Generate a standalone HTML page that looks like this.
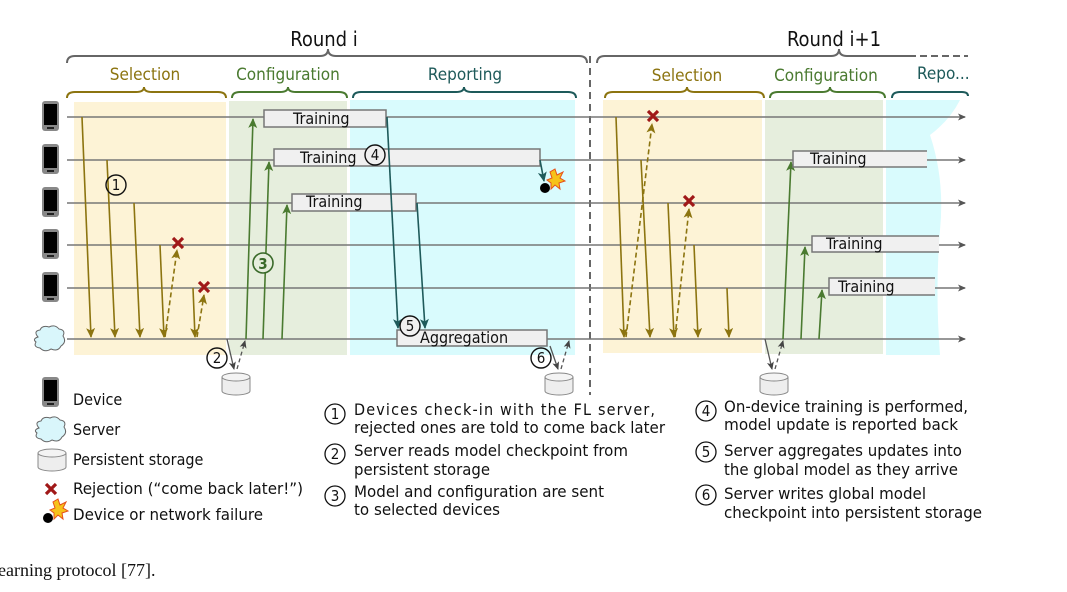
<!DOCTYPE html>
<html><head><meta charset="utf-8"><style>
body{margin:0;background:#fff;}
svg{display:block;}
text{font-family:"DejaVu Sans Condensed","Liberation Sans",sans-serif;}
</style></head><body>
<svg width="1067" height="592" viewBox="0 0 1067 592" xmlns="http://www.w3.org/2000/svg">
<defs>
<marker id="ag" markerWidth="8" markerHeight="8" refX="7" refY="4" orient="auto" markerUnits="userSpaceOnUse"><path d="M0,0.5 L8,4 L0,7.5 L2,4z" fill="#555"/></marker>
<marker id="ay" markerWidth="10" markerHeight="10" refX="9" refY="5" orient="auto" markerUnits="userSpaceOnUse"><path d="M0,0.5 L10,5 L0,9.5 L2.5,5z" fill="#8c7410"/></marker>
<marker id="agr" markerWidth="10" markerHeight="10" refX="9" refY="5" orient="auto" markerUnits="userSpaceOnUse"><path d="M0,0.5 L10,5 L0,9.5 L2.5,5z" fill="#4a7a30"/></marker>
<marker id="at" markerWidth="10" markerHeight="10" refX="9" refY="5" orient="auto" markerUnits="userSpaceOnUse"><path d="M0,0.5 L10,5 L0,9.5 L2.5,5z" fill="#1e5a5a"/></marker>
<marker id="ak" markerWidth="8" markerHeight="8" refX="7" refY="4" orient="auto" markerUnits="userSpaceOnUse"><path d="M0,0.5 L8,4 L0,7.5 L2,4z" fill="#444"/></marker>
<g id="phone"><rect x="0" y="0" width="17" height="30" rx="3" fill="#888"/><rect x="2" y="3" width="13" height="21" fill="#000"/><rect x="5" y="26" width="7" height="2" fill="#222"/></g>
<g id="cyl"><path d="M0,4 L0,18 A14,4 0 0 0 28,18 L28,4" fill="#eee" stroke="#888" stroke-width="1"/><ellipse cx="14" cy="4" rx="14" ry="4" fill="#f4f4f4" stroke="#888"/></g>
<path id="xm" d="M-5,-5 L5,5 M5,-5 L-5,5" stroke="#a01818" stroke-width="3.2" fill="none"/>
</defs>

<rect x="74" y="102" width="152" height="253" fill="#fdf3d6"/>
<rect x="229" y="101" width="118" height="254" fill="#e6eedd"/>
<rect x="350" y="100" width="225" height="255" fill="#d9fbfd"/>
<rect x="603" y="100" width="159" height="253" fill="#fdf3d6"/>
<rect x="765" y="100" width="118" height="254" fill="#e6eedd"/>
<path d="M886,100 L960,100 Q950,120 930,135 Q945,180 940,230 Q935,290 940,355 L886,355z" fill="#d9fbfd"/>

<g fill="none" stroke-width="2">
<path d="M67,63 Q67,56 75,56 L320,56 Q328,56 328,49 Q328,56 336,56 L579,56 Q587,56 587,63" stroke="#666"/>
<path d="M597,63 Q597,56 605,56 L831,56 Q839,56 839,49 Q839,56 847,56 L916,56" stroke="#666"/>
<path d="M920,56 L968,56" stroke="#666" stroke-dasharray="7,4"/>
<path d="M67,98 Q67,92 75,92 L136,92 Q144,92 144,87 Q144,92 152,92 L218,92 Q226,92 226,98" stroke="#8c7410"/>
<path d="M232,98 Q232,92 240,92 L280,92 Q288,92 288,87 Q288,92 296,92 L339,92 Q347,92 347,98" stroke="#4a7a30"/>
<path d="M353,98 Q353,92 361,92 L456,92 Q464,92 464,87 Q464,92 472,92 L568,92 Q576,92 576,98" stroke="#1e5a5a"/>
<path d="M605,98 Q605,92 613,92 L679,92 Q687,92 687,87 Q687,92 695,92 L756,92 Q764,92 764,98" stroke="#8c7410"/>
<path d="M770,98 Q770,92 778,92 L822,92 Q830,92 830,87 Q830,92 838,92 L877,92 Q885,92 885,98" stroke="#4a7a30"/>
<path d="M892,98 Q892,92 900,92 L962,92 Q968,92 968,96" stroke="#1e5a5a"/>
</g>
<text x="324" y="46" font-size="20" text-anchor="middle" fill="#111">Round i</text>
<text x="834" y="46" font-size="20" text-anchor="middle" fill="#111">Round i+1</text>
<text x="145" y="80" font-size="17" text-anchor="middle" fill="#8c7410">Selection</text>
<text x="288" y="80" font-size="17" text-anchor="middle" fill="#4a7a30">Configuration</text>
<text x="465" y="80" font-size="17" text-anchor="middle" fill="#1e5a5a">Reporting</text>
<text x="687" y="81" font-size="17" text-anchor="middle" fill="#8c7410">Selection</text>
<text x="826" y="81" font-size="17" text-anchor="middle" fill="#4a7a30">Configuration</text>
<text x="917" y="79" font-size="17" fill="#1e5a5a">Repo...</text>

<line x1="590" y1="56" x2="590" y2="395" stroke="#666" stroke-width="2" stroke-dasharray="7,5"/>

<g stroke="#777" stroke-width="1.5" fill="none">
<line x1="67" y1="117" x2="965" y2="117" marker-end="url(#ag)"/>
<line x1="67" y1="160" x2="965" y2="160" marker-end="url(#ag)"/>
<line x1="67" y1="203" x2="965" y2="203" marker-end="url(#ag)"/>
<line x1="67" y1="245" x2="965" y2="245" marker-end="url(#ag)"/>
<line x1="67" y1="288" x2="965" y2="288" marker-end="url(#ag)"/>
<line x1="67" y1="339" x2="965" y2="339" marker-end="url(#ag)"/>
</g>

<use href="#phone" x="42" y="101"/>
<use href="#phone" x="42" y="144"/>
<use href="#phone" x="42" y="187"/>
<use href="#phone" x="42" y="229"/>
<use href="#phone" x="42" y="272"/>
<path d="M38,337 Q33,331 40,330 Q42,325 49,327 Q55,324 59,329 Q66,330 63,336 Q67,342 61,346 Q58,352 51,349 Q45,353 40,348 Q33,347 36,342 Q32,339 38,337z" fill="#d9f6fb" stroke="#666" stroke-width="1"/>

<g stroke="#8c7410" stroke-width="1.6" fill="none">
<line x1="82" y1="117" x2="91" y2="337" marker-end="url(#ay)"/>
<line x1="107" y1="160" x2="115" y2="337" marker-end="url(#ay)"/>
<line x1="134" y1="203" x2="140" y2="337" marker-end="url(#ay)"/>
<line x1="160" y1="245" x2="164" y2="337" marker-end="url(#ay)"/>
<line x1="165" y1="337" x2="177" y2="250" stroke-dasharray="5,3" marker-end="url(#ay)"/>
<line x1="193" y1="288" x2="195" y2="337" marker-end="url(#ay)"/>
<line x1="197" y1="337" x2="204" y2="295" stroke-dasharray="5,3" marker-end="url(#ay)"/>
<line x1="616" y1="117" x2="624" y2="337" marker-end="url(#ay)"/>
<line x1="626" y1="337" x2="652" y2="124" stroke-dasharray="5,3" marker-end="url(#ay)"/>
<line x1="641" y1="160" x2="650" y2="337" marker-end="url(#ay)"/>
<line x1="668" y1="203" x2="674" y2="337" marker-end="url(#ay)"/>
<line x1="675" y1="337" x2="689" y2="209" stroke-dasharray="5,3" marker-end="url(#ay)"/>
<line x1="694" y1="245" x2="698" y2="337" marker-end="url(#ay)"/>
<line x1="727" y1="288" x2="729" y2="337" marker-end="url(#ay)"/>
</g>
<use href="#xm" x="178" y="243"/><use href="#xm" x="204" y="287"/>
<use href="#xm" x="653" y="116"/><use href="#xm" x="689" y="201"/>

<g stroke="#555" stroke-width="1.3" fill="none">
<line x1="227" y1="339" x2="234" y2="369" marker-end="url(#ak)"/>
<line x1="237" y1="369" x2="245" y2="341" stroke-dasharray="4,3" marker-end="url(#ak)"/>
<line x1="550" y1="346" x2="558" y2="369" marker-end="url(#ak)"/>
<line x1="561" y1="369" x2="569" y2="341" stroke-dasharray="4,3" marker-end="url(#ak)"/>
<line x1="765" y1="339" x2="772" y2="369" marker-end="url(#ak)"/>
<line x1="775" y1="369" x2="783" y2="341" stroke-dasharray="4,3" marker-end="url(#ak)"/>
</g>
<use href="#cyl" x="222" y="373"/>
<use href="#cyl" x="545" y="373"/>
<use href="#cyl" x="760" y="373"/>

<g stroke="#4a7a30" stroke-width="1.6" fill="none">
<line x1="246" y1="339" x2="253" y2="119" marker-end="url(#agr)"/>
<line x1="263" y1="339" x2="269" y2="162" marker-end="url(#agr)"/>
<line x1="282" y1="339" x2="287" y2="205" marker-end="url(#agr)"/>
<line x1="783" y1="339" x2="791" y2="162" marker-end="url(#agr)"/>
<line x1="801" y1="339" x2="805" y2="247" marker-end="url(#agr)"/>
<line x1="819" y1="339" x2="822" y2="290" marker-end="url(#agr)"/>
</g>

<g fill="#f0f0f0" stroke="#777" stroke-width="1.5">
<rect x="264" y="110" width="122" height="17"/>
<rect x="274" y="149" width="266" height="17"/>
<rect x="292" y="194" width="124" height="17"/>
<rect x="397" y="330" width="150" height="16"/>
</g>
<g fill="#f0f0f0" stroke="none">
<rect x="793" y="151" width="134" height="16"/>
<rect x="812" y="236" width="127" height="16"/>
<rect x="829" y="278" width="106" height="17"/>
</g>
<g stroke="#777" stroke-width="1.5" fill="none">
<path d="M927,151 L793,151 L793,167 L927,167"/>
<path d="M939,236 L812,236 L812,252 L939,252"/>
<path d="M935,278 L829,278 L829,295 L935,295"/>
</g>
<g font-size="16" fill="#111">
<text x="293" y="124">Training</text>
<text x="300" y="163">Training</text>
<text x="306" y="207">Training</text>
<text x="810" y="164">Training</text>
<text x="826" y="249">Training</text>
<text x="838" y="292">Training</text>
<text x="420" y="343">Aggregation</text>
</g>

<g stroke="#1e5a5a" stroke-width="1.6" fill="none">
<line x1="387" y1="117" x2="398" y2="328" marker-end="url(#at)"/>
<line x1="417" y1="203" x2="425" y2="328" marker-end="url(#at)"/>
<line x1="540" y1="160" x2="544" y2="181" marker-end="url(#at)"/>
</g>
<circle cx="545" cy="188" r="5" fill="#000"/>
<path d="M555,169 L557,175 L563,172 L560,178 L565,181 L559,183 L560,189 L555,185 L551,189 L551,183 L547,180 L552,178 L550,172z" fill="#f6c21a" stroke="#e6501a" stroke-width="1"/>

<g fill="none" stroke="#111" stroke-width="1.4">
<circle cx="116" cy="185" r="10"/>
<circle cx="217" cy="358" r="10"/>
<circle cx="375" cy="155" r="10" fill="#f0f0f0"/>
<circle cx="410" cy="326" r="10" fill="#f0f0f0"/>
<circle cx="541" cy="358" r="10"/>
</g>
<circle cx="263" cy="263" r="10" fill="#e6eedd" stroke="#3a6a2a" stroke-width="1.6"/>
<g font-size="15" text-anchor="middle" fill="#111">
<text x="116" y="190">1</text><text x="217" y="363">2</text><text x="375" y="160">4</text><text x="410" y="331">5</text><text x="541" y="363">6</text>
<text x="263" y="269" fill="#3a6a2a" font-weight="bold" font-size="15">3</text>
</g>

<use href="#phone" x="42" y="377"/>
<text x="73" y="405" font-size="16" fill="#111">Device</text>
<path d="M39,428 Q34,422 41,421 Q43,416 50,418 Q56,415 60,420 Q67,421 64,427 Q68,433 62,437 Q59,443 52,440 Q46,444 41,439 Q34,438 37,433 Q33,430 39,428z" fill="#d9f6fb" stroke="#666" stroke-width="1"/>
<text x="73" y="435" font-size="16" fill="#111">Server</text>
<use href="#cyl" x="38" y="449"/>
<text x="73" y="465" font-size="16" fill="#111">Persistent storage</text>
<use href="#xm" x="51" y="489"/>
<text x="73" y="494" font-size="16" fill="#111" textLength="230" lengthAdjust="spacingAndGlyphs">Rejection (“come back later!”)</text>
<circle cx="48" cy="518" r="5" fill="#000"/>
<path d="M58,499 L60,505 L66,502 L63,508 L68,511 L62,513 L63,519 L58,515 L54,519 L54,513 L50,510 L55,508 L53,502z" fill="#f6c21a" stroke="#e6501a" stroke-width="1"/>
<text x="73" y="520" font-size="16" fill="#111" textLength="190" lengthAdjust="spacingAndGlyphs">Device or network failure</text>

<g fill="none" stroke="#111" stroke-width="1.3">
<circle cx="335" cy="414" r="10"/><circle cx="335" cy="454" r="10"/><circle cx="335" cy="496" r="10"/>
<circle cx="706" cy="411" r="10"/><circle cx="706" cy="452" r="10"/><circle cx="706" cy="495" r="10"/>
</g>
<g font-size="15" text-anchor="middle" fill="#111">
<text x="335" y="419">1</text><text x="335" y="459">2</text><text x="335" y="501">3</text>
<text x="706" y="416">4</text><text x="706" y="457">5</text><text x="706" y="500">6</text>
</g>
<g font-size="16" fill="#111">
<text x="354" y="415" textLength="301">Devices check-in with the FL server,</text>
<text x="354" y="433" textLength="311" lengthAdjust="spacingAndGlyphs">rejected ones are told to come back later</text>
<text x="354" y="456" textLength="274" lengthAdjust="spacingAndGlyphs">Server reads model checkpoint from</text>
<text x="354" y="475" textLength="136" lengthAdjust="spacingAndGlyphs">persistent storage</text>
<text x="354" y="497" textLength="250" lengthAdjust="spacingAndGlyphs">Model and configuration are sent</text>
<text x="354" y="515" textLength="146" lengthAdjust="spacingAndGlyphs">to selected devices</text>
<text x="724" y="412" textLength="244" lengthAdjust="spacingAndGlyphs">On-device training is performed,</text>
<text x="724" y="430" textLength="234" lengthAdjust="spacingAndGlyphs">model update is reported back</text>
<text x="724" y="456" textLength="238" lengthAdjust="spacingAndGlyphs">Server aggregates updates into</text>
<text x="724" y="475" textLength="234" lengthAdjust="spacingAndGlyphs">the global model as they arrive</text>
<text x="724" y="499" textLength="202" lengthAdjust="spacingAndGlyphs">Server writes global model</text>
<text x="724" y="518" textLength="258" lengthAdjust="spacingAndGlyphs">checkpoint into persistent storage</text>
</g>
<text x="-2" y="576" font-size="18" fill="#111" style="font-family:'Liberation Serif',serif">earning protocol [77].</text>
</svg>
</body></html>
